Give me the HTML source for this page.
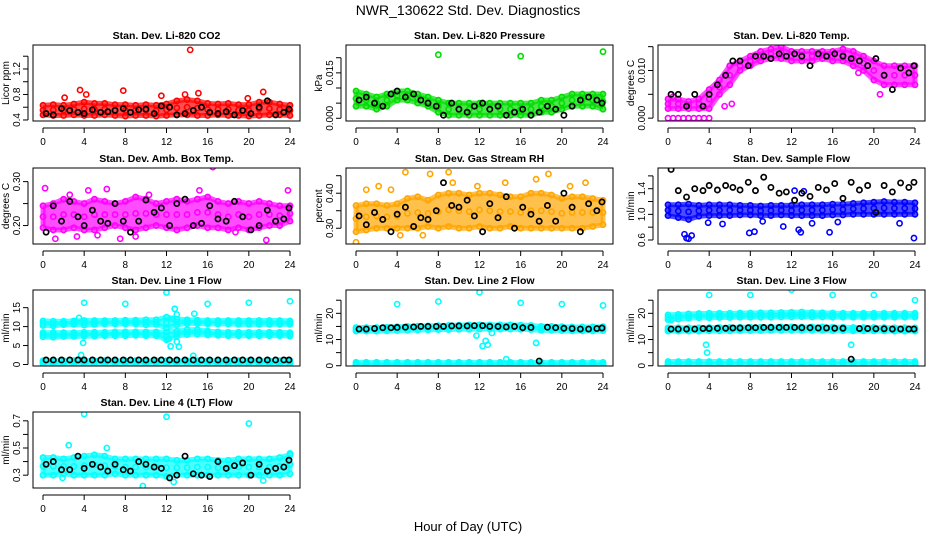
<!DOCTYPE html>
<html><head><meta charset="utf-8"><style>
html,body{margin:0;padding:0;background:#fff;}
svg{display:block;font-family:"Liberation Sans",Arial,sans-serif;}
</style></head><body>
<svg id="chart" width="936" height="540" viewBox="0 0 936 540">
<rect x="0" y="0" width="936" height="540" fill="#fff"/>
<text x="468" y="15" font-size="14" text-anchor="middle">NWR_130622 Std. Dev. Diagnostics</text>
<text x="468" y="531" font-size="13" text-anchor="middle">Hour of Day (UTC)</text>
</svg>
<script>
const hours=[0,1,2,3,4,5,6,7,8,9,10,11,12,13,14,15,16,17,18,19,20,21,22,23,24];
const blackHours=[0.3,1,1.8,2.6,3.4,4,4.8,5.6,6.3,7,7.8,8.5,9.3,10,10.8,11.5,12.3,13,13.8,14.6,15.4,16.2,17,17.8,18.6,19.4,20.2,21,21.8,22.6,23.4,23.9];
const xTicks=[0,4,8,12,16,20,24];

const co2Lo=[0.48,0.47,0.47,0.48,0.47,0.47,0.48,0.47,0.46,0.47,0.47,0.46,0.47,0.48,0.48,0.47,0.47,0.48,0.47,0.47,0.46,0.47,0.48,0.48,0.47];
const co2Hi=[0.63,0.64,0.63,0.65,0.68,0.66,0.66,0.64,0.64,0.63,0.64,0.63,0.65,0.70,0.72,0.70,0.66,0.65,0.66,0.64,0.64,0.68,0.68,0.65,0.63];
const co2OutX=[14.3,3.6,7.8,11.5,4.2,15.1,13.8,19.9,21.4,2.1];
const co2OutY=[1.5,0.87,0.86,0.78,0.8,0.82,0.8,0.74,0.84,0.75];
const co2Black=[0.5,0.48,0.58,0.55,0.52,0.5,0.56,0.52,0.53,0.55,0.58,0.52,0.56,0.57,0.5,0.62,0.6,0.48,0.5,0.55,0.6,0.52,0.5,0.53,0.48,0.55,0.5,0.6,0.7,0.48,0.52,0.57];

const presLo=[.004,.004,.003,.004,.006,.006,.005,.004,.002,.001,.001,.001,.001,.001,.001,.001,.001,.001,.002,.002,.003,.004,.004,.004,.003];
const presHi=[.009,.008,.007,.008,.009,.009,.008,.007,.006,.005,.005,.005,.005,.005,.005,.005,.005,.005,.006,.006,.007,.008,.008,.008,.008];
const presOutX=[8,16,24];
const presOutY=[.021,.0205,.022];
const presBlack=[.006,.007,.005,.004,.008,.009,.007,.008,.006,.005,.004,.001,.005,.003,.002,.004,.005,.003,.004,.001,.002,.003,.001,.002,.004,.003,.001,.004,.006,.007,.006,.005];

const tempLo=[.002,.002,.002,.002,.002,.005,.007,.010,.011,.012,.0125,.0125,.012,.012,.012,.0125,.012,.012,.011,.010,.008,.007,.007,.007,.007];
const tempHi=[.004,.004,.0035,.004,.006,.008,.011,.012,.013,.014,.0145,.015,.014,.014,.014,.014,.014,.0145,.014,.013,.012,.011,.011,.011,.011];
const tempOutX=[0,0.5,1,1.5,2,2.5,3,3.5,4,0.5,5.5,6.2,18.5,20.6];
const tempOutY=[0,0,0,0,0,0,0,0,0,0.0045,0.0025,0.003,0.0095,0.005];
const tempBlack=[.005,.005,.0025,.005,.0025,.005,.007,.009,.012,.012,.011,.013,.013,.0125,.0135,.013,.0135,.013,.011,.0135,.013,.0135,.013,.0125,.012,.011,.0125,.009,.006,.0105,.0095,.011];

const ambLo=[0.195,0.19,0.19,0.195,0.19,0.19,0.195,0.2,0.195,0.19,0.195,0.2,0.195,0.19,0.195,0.2,0.195,0.195,0.19,0.195,0.19,0.195,0.2,0.2,0.21];
const ambHi=[0.245,0.25,0.26,0.255,0.25,0.26,0.255,0.25,0.255,0.265,0.26,0.25,0.255,0.26,0.255,0.26,0.265,0.255,0.25,0.255,0.25,0.255,0.25,0.245,0.245];
const ambOutX=[0.2,1.2,2.6,4.4,6.2,7.5,9.0,10.3,15.2,18.7,21.7,23.8,3.3,5.3,16.5];
const ambOutY=[0.285,0.17,0.27,0.28,0.283,0.17,0.175,0.27,0.28,0.185,0.167,0.28,0.175,0.178,0.333];
const ambBlack=[0.185,0.245,0.21,0.255,0.22,0.2,0.235,0.21,0.205,0.25,0.21,0.185,0.21,0.258,0.23,0.24,0.2,0.25,0.26,0.2,0.205,0.245,0.215,0.21,0.255,0.22,0.19,0.2,0.235,0.21,0.215,0.24];

const rhLo=[0.29,0.295,0.3,0.3,0.3,0.3,0.3,0.305,0.3,0.305,0.3,0.3,0.305,0.3,0.3,0.305,0.3,0.3,0.3,0.3,0.3,0.3,0.3,0.305,0.31];
const rhHi=[0.365,0.37,0.37,0.365,0.37,0.385,0.39,0.38,0.395,0.4,0.4,0.395,0.4,0.4,0.395,0.39,0.39,0.4,0.4,0.395,0.385,0.39,0.39,0.385,0.38];
const rhOutX=[0,1,2.2,3.4,4.8,7.2,9,9.4,11.8,14.5,17.5,18.7,20.8,22.3,4.3,6.5];
const rhOutY=[0.26,0.41,0.42,0.41,0.46,0.455,0.46,0.43,0.42,0.43,0.44,0.455,0.42,0.43,0.28,0.28];
const rhBlack=[0.335,0.31,0.345,0.325,0.29,0.34,0.36,0.305,0.33,0.325,0.35,0.43,0.365,0.36,0.38,0.335,0.29,0.37,0.33,0.39,0.3,0.36,0.34,0.32,0.365,0.32,0.4,0.36,0.29,0.37,0.35,0.375];

const flowLo=[0.98,0.95,0.92,0.97,0.98,0.98,0.98,0.99,0.99,0.98,0.98,0.99,0.98,0.98,0.98,0.98,0.99,0.99,1.0,1.0,1.0,1.0,1.0,1.0,1.0];
const flowHi=[1.15,1.15,1.16,1.14,1.15,1.15,1.15,1.14,1.14,1.13,1.14,1.14,1.14,1.15,1.15,1.15,1.16,1.16,1.17,1.18,1.19,1.2,1.19,1.19,1.18];
const flowOutX=[1.6,1.8,2.0,2.3,3.9,5.3,7.9,8.4,9.2,11.2,12.7,12.9,14,15.7,16.5,22.5,23.9,12.3,13.2];
const flowOutY=[0.69,0.63,0.62,0.67,0.87,0.85,0.71,0.73,0.89,0.81,0.76,0.72,0.86,0.72,0.88,0.86,0.63,1.37,1.36];
const flowBlack=[1.7,1.37,1.27,1.4,1.37,1.45,1.38,1.45,1.42,1.38,1.5,1.37,1.58,1.42,1.33,1.35,1.22,1.33,1.28,1.42,1.38,1.48,1.25,1.5,1.38,1.45,1.03,1.45,1.35,1.49,1.42,1.5];

const l1TopLo=[10.3,10.2,10.5,10.6,10.4,10.6,10.7,10.7,10.7,10.7,10.5,10.6,9.6,10.5,10.8,10.8,10.7,10.7,10.7,10.6,10.6,10.6,10.6,10.6,10.6];
const l1TopHi=[11.5,11.4,11.4,11.5,11.6,11.6,11.6,11.6,11.7,11.7,11.8,11.8,12.5,12.0,11.8,11.7,11.6,11.6,11.6,11.6,11.6,11.6,11.6,11.6,11.5];
const l1MidLo=[7.3,7.2,7.4,7.4,7.5,7.5,7.6,7.6,7.6,7.7,7.6,7.6,6.5,7.5,7.9,8.0,7.8,7.7,7.6,7.6,7.6,7.6,7.6,7.6,7.5];
const l1MidHi=[8.4,8.4,8.4,8.4,8.5,8.5,8.5,8.6,8.6,8.6,8.6,8.6,8.5,8.8,9.2,9.2,8.8,8.6,8.5,8.5,8.5,8.5,8.5,8.5,8.4];
const l1BotLo=[0.2,0.2,0.2,0.2,0.2,0.2,0.2,0.2,0.2,0.2,0.2,0.2,0.2,0.2,0.2,0.2,0.2,0.2,0.2,0.2,0.2,0.2,0.2,0.2,0.2];
const l1BotHi=[1.0,1.0,1.0,1.0,1.0,1.0,1.0,1.0,1.0,1.0,1.0,1.0,1.0,1.0,1.0,1.0,1.0,1.0,1.0,1.0,1.0,1.0,1.0,1.0,1.0];
const l1OutX=[3.5,3.7,3.9,4,8,12,12.4,12.6,12.8,13,13.2,14.6,14.7,16,20,24,12.2,13.0];
const l1OutY=[12.3,2.5,5.7,16.3,16,19,4.8,12,14.7,13.2,4.7,2.3,13.4,16,16.3,16.7,6.7,6];
const l1Black=[1.2,1.2,1.2,1.2,1.2,1.2,1.2,1.2,1.2,1.2,1.2,1.2,1.2,1.2,1.2,1.2,1.2,1.2,1.2,1.2,1.2,1.2,1.2,1.2,1.2,1.2,1.2,1.2,1.2,1.2,1.2,1.2];

const l2MainLo=[13.2,13.2,13.2,13.3,13.4,13.5,13.6,13.7,13.8,13.8,13.9,13.9,14.0,14.0,14.0,14.0,13.9,13.8,13.5,13.5,13.4,13.3,13.3,13.3,13.4];
const l2MainHi=[14.6,14.6,14.6,14.7,14.9,15.0,15.1,15.2,15.3,15.4,15.5,15.6,15.6,15.6,15.6,15.6,15.5,15.4,15.0,15.0,14.9,14.8,14.8,14.8,14.9];
const l2BotLo=[0.3,0.3,0.3,0.3,0.3,0.3,0.3,0.3,0.3,0.3,0.3,0.3,0.3,0.3,0.3,0.3,0.3,0.3,0.3,0.3,0.3,0.3,0.3,0.3,0.3];
const l2BotHi=[1.3,1.3,1.3,1.3,1.3,1.3,1.3,1.3,1.3,1.3,1.3,1.3,1.3,1.3,1.3,1.3,1.3,1.3,1.3,1.3,1.3,1.3,1.3,1.3,1.3];
const l2OutX=[4,8,12,16,20,24,11.7,12.3,12.6,12.8,13.2,14.6,17.5];
const l2OutY=[23.5,24.5,28,24,23.5,23,11.5,7.5,9.5,8,12.5,2.5,8.7];
const l2Black=[14,14,14.2,14.5,14.5,14.6,14.7,14.8,15,15,15,15,15.2,15.2,15.2,15.3,15.3,15,15,14.8,15,14.5,14.6,1.8,14.7,14.5,14.3,14.2,14,14,14.2,14.4];

const l3TopLo=[17.6,17.8,18.2,18.3,18.3,18.4,18.4,18.5,18.5,18.5,18.5,18.6,18.6,18.7,18.6,18.6,18.5,18.5,18.5,18.5,18.5,18.5,18.5,18.5,18.5];
const l3TopHi=[19.4,19.6,19.8,19.9,20.0,20.0,20.0,20.1,20.1,20.2,20.2,20.3,20.4,20.5,20.3,20.2,20.1,20.0,20.0,20.0,20.0,20.0,20.0,20.0,20.0];
const l3MidLo=[13.2,13.2,13.2,13.2,13.3,13.3,13.3,13.4,13.4,13.4,13.5,13.5,13.5,13.5,13.5,13.5,13.4,13.4,13.3,13.3,13.3,13.3,13.2,13.2,13.2];
const l3MidHi=[14.5,14.5,14.5,14.5,14.6,14.6,14.6,14.7,14.7,14.7,14.8,14.8,14.8,14.8,14.8,14.8,14.7,14.7,14.6,14.6,14.6,14.6,14.5,14.5,14.5];
const l3BotLo=[0.5,0.5,0.5,0.5,0.5,0.5,0.5,0.5,0.5,0.5,0.5,0.5,0.5,0.5,0.5,0.5,0.5,0.5,0.5,0.5,0.5,0.5,0.5,0.5,0.5];
const l3BotHi=[1.6,1.6,1.6,1.6,1.6,1.6,1.6,1.6,1.6,1.6,1.6,1.6,1.6,1.6,1.6,1.6,1.6,1.6,1.6,1.6,1.6,1.6,1.6,1.6,1.6];
const l3OutX=[0.3,4,8,12,16,20,24,3.7,3.8,17.8];
const l3OutY=[17.5,27,27,29,27,27,25,8,5,8];
const l3Black=[14,14,14,14,14.2,14.2,14.3,14.3,14.4,14.4,14.5,14.5,14.6,14.6,14.6,14.6,14.6,14.5,14.5,14.4,14.4,14.3,14.3,2.5,14.2,14.2,14.1,14.1,14,14,14,14];

const l4Lo=[0.3,0.3,0.31,0.3,0.3,0.3,0.3,0.31,0.3,0.3,0.3,0.3,0.29,0.3,0.3,0.3,0.3,0.3,0.3,0.3,0.3,0.3,0.3,0.3,0.31];
const l4Hi=[0.43,0.43,0.42,0.43,0.44,0.45,0.44,0.42,0.42,0.42,0.42,0.42,0.42,0.41,0.41,0.42,0.42,0.41,0.41,0.42,0.42,0.42,0.42,0.43,0.45];
const l4OutX=[4,12,20,2.5,6.2,9.7,12.7,1.9,21.4,24];
const l4OutY=[0.75,0.73,0.68,0.52,0.5,0.22,0.25,0.28,0.26,0.46];
const l4Black=[0.38,0.4,0.34,0.34,0.44,0.35,0.38,0.36,0.33,0.38,0.34,0.33,0.4,0.38,0.36,0.35,0.28,0.3,0.44,0.31,0.3,0.29,0.4,0.35,0.37,0.39,0.3,0.38,0.33,0.35,0.36,0.41];

const svg=document.getElementById('chart');
const NS='http://www.w3.org/2000/svg';
function mk(tag,attrs,parent){const e=document.createElementNS(NS,tag);for(const k in attrs)e.setAttribute(k,attrs[k]);parent.appendChild(e);return e;}

const colLeft=[33,346,658], rowTop=[45,168,290,412], PW=267, PH=76;
const panels=[
 {title:'Stan. Dev. Li-820 CO2',ylab:'Licor ppm',col:0,row:0,ymin:0.384,ymax:1.576,ticks:[0.4,0.6,0.8,1.0,1.2,1.4],labels:['0.4','','0.8','','1.2',''],color:'#ff0000',bands:[[co2Lo,co2Hi]],ox:co2OutX,oy:co2OutY,black:co2Black},
 {title:'Stan. Dev. Li-820 Pressure',ylab:'kPa',col:1,row:0,ymin:-0.0009,ymax:0.0242,ticks:[0,0.005,0.01,0.015,0.02],labels:['0.000','','','0.015',''],color:'#00dd00',bands:[[presLo,presHi]],ox:presOutX,oy:presOutY,black:presBlack},
 {title:'Stan. Dev. Li-820 Temp.',ylab:'degrees C',col:2,row:0,ymin:-0.0006,ymax:0.01535,ticks:[0,0.005,0.01,0.015],labels:['0.000','','0.010',''],color:'#ff00ff',bands:[[tempLo,tempHi]],ox:tempOutX,oy:tempOutY,black:tempBlack},
 {title:'Stan. Dev. Amb. Box Temp.',ylab:'degrees C',col:0,row:1,ymin:0.158,ymax:0.331,ticks:[0.2,0.25,0.3],labels:['0.20','','0.30'],color:'#ff00ff',bands:[[ambLo,ambHi]],ox:ambOutX,oy:ambOutY,black:ambBlack},
 {title:'Stan. Dev. Gas Stream RH',ylab:'percent',col:1,row:1,ymin:0.255,ymax:0.472,ticks:[0.3,0.35,0.4,0.45],labels:['0.30','','0.40',''],color:'#ffa500',bands:[[rhLo,rhHi]],ox:rhOutX,oy:rhOutY,black:rhBlack},
 {title:'Stan. Dev. Sample Flow',ylab:'ml/min',col:2,row:1,ymin:0.5375,ymax:1.723,ticks:[0.6,0.8,1.0,1.2,1.4,1.6],labels:['0.6','','1.0','','1.4',''],color:'#0000ff',bands:[[flowLo,flowHi]],ox:flowOutX,oy:flowOutY,black:flowBlack},
 {title:'Stan. Dev. Line 1 Flow',ylab:'ml/min',col:0,row:2,ymin:-0.4,ymax:19.66,ticks:[0,5,10,15],labels:['0','5','10','15'],color:'#00ffff',bands:[[l1TopLo,l1TopHi],[l1MidLo,l1MidHi],[l1BotLo,l1BotHi]],ox:l1OutX,oy:l1OutY,black:l1Black},
 {title:'Stan. Dev. Line 2 Flow',ylab:'ml/min',col:1,row:2,ymin:-0.1,ymax:28.9,ticks:[0,5,10,15,20,25],labels:['0','','10','','20',''],color:'#00ffff',bands:[[l2MainLo,l2MainHi],[l2BotLo,l2BotHi]],ox:l2OutX,oy:l2OutY,black:l2Black},
 {title:'Stan. Dev. Line 3 Flow',ylab:'ml/min',col:2,row:2,ymin:-0.1,ymax:28.9,ticks:[0,5,10,15,20,25],labels:['0','','10','','20',''],color:'#00ffff',bands:[[l3TopLo,l3TopHi],[l3MidLo,l3MidHi],[l3BotLo,l3BotHi]],ox:l3OutX,oy:l3OutY,black:l3Black},
 {title:'Stan. Dev. Line 4 (LT) Flow',ylab:'ml/min',col:0,row:3,ymin:0.2055,ymax:0.765,ticks:[0.3,0.4,0.5,0.6,0.7],labels:['0.3','','0.5','','0.7'],color:'#00ffff',bands:[[l4Lo,l4Hi]],ox:l4OutX,oy:l4OutY,black:l4Black}
];

panels.forEach((p,pi)=>{
  const L=colLeft[p.col], T=rowTop[p.row], B=T+PH, R=L+PW;
  const xs=h=>L+10+h/24*247;
  const ys=v=>B-(v-p.ymin)/(p.ymax-p.ymin)*PH;
  const g=mk('g',{},svg);
  
  
  const clip=mk('clipPath',{id:'c'+pi},g);
  mk('rect',{x:L,y:T,width:PW,height:PH},clip);
  const plot=mk('g',{'clip-path':'url(#c'+pi+')'},g);
  p.bands.forEach((b,bi)=>{
    const lo=b[0],hi=b[1];
    let pts=hours.map((h,i)=>xs(h)+','+ys(hi[i]));
    pts=pts.concat(hours.map((h,i)=>xs(h)+','+ys(lo[i])).reverse());
    const poly=mk('polygon',{points:pts.join(' '),fill:p.color,'fill-opacity':0.7,stroke:p.color,'stroke-opacity':0.7,'stroke-width':5,'stroke-linejoin':'round'},plot);
    
    
    hours.forEach((h,i)=>{
      [lo[i],hi[i],(lo[i]+hi[i])/2].forEach(v=>{
        const c=mk('circle',{cx:xs(h),cy:ys(v),r:2.6,fill:'none',stroke:p.color,'stroke-width':1.6},plot);
        
        
      });
    });
  });
  p.ox.forEach((x,i)=>{
    const c=mk('circle',{cx:xs(x),cy:ys(p.oy[i]),r:2.6,fill:'none',stroke:p.color,'stroke-width':1.6},plot);
    
    
  });
  p.black.forEach((v,i)=>{
    const c=mk('circle',{cx:xs(blackHours[i]),cy:ys(v),r:2.6,fill:'none',stroke:'#000','stroke-width':1.7},plot);
    
    
  });
  const box=mk('rect',{x:L,y:T,width:PW,height:PH,fill:'none',stroke:'#000','stroke-width':1},g);
  
  
  const t=mk('text',{x:(L+R)/2,y:T-6,'font-size':10.5,'font-weight':'bold','text-anchor':'middle'},g);
  t.textContent=p.title;
  
  
  mk('line',{x1:xs(0),x2:xs(24),y1:B+7,y2:B+7,stroke:'#000'},g);
  xTicks.forEach(h=>{
    mk('line',{x1:xs(h),x2:xs(h),y1:B+7,y2:B+12,stroke:'#000'},g);
    const tl=mk('text',{x:xs(h),y:B+24,'font-size':10,'text-anchor':'middle'},g);
    tl.textContent=h;
    
    
  });
  const t0=p.ticks[0],t1=p.ticks[p.ticks.length-1];
  mk('line',{x1:L-5,x2:L-5,y1:ys(t0),y2:ys(t1),stroke:'#000'},g);
  p.ticks.forEach((v,i)=>{
    mk('line',{x1:L-10,x2:L-5,y1:ys(v),y2:ys(v),stroke:'#000'},g);
    if(p.labels[i]){
      const yl=mk('text',{x:0,y:0,'font-size':10,'text-anchor':'middle',transform:'translate('+(L-13)+','+ys(v)+') rotate(-90)'},g);
      yl.textContent=p.labels[i];
      
      
    }
  });
  const ylab=mk('text',{x:0,y:0,'font-size':10,'text-anchor':'middle',transform:'translate('+(L-24)+','+((T+B)/2)+') rotate(-90)'},g);
  ylab.textContent=p.ylab;
  
  
});
</script>
</body></html>
